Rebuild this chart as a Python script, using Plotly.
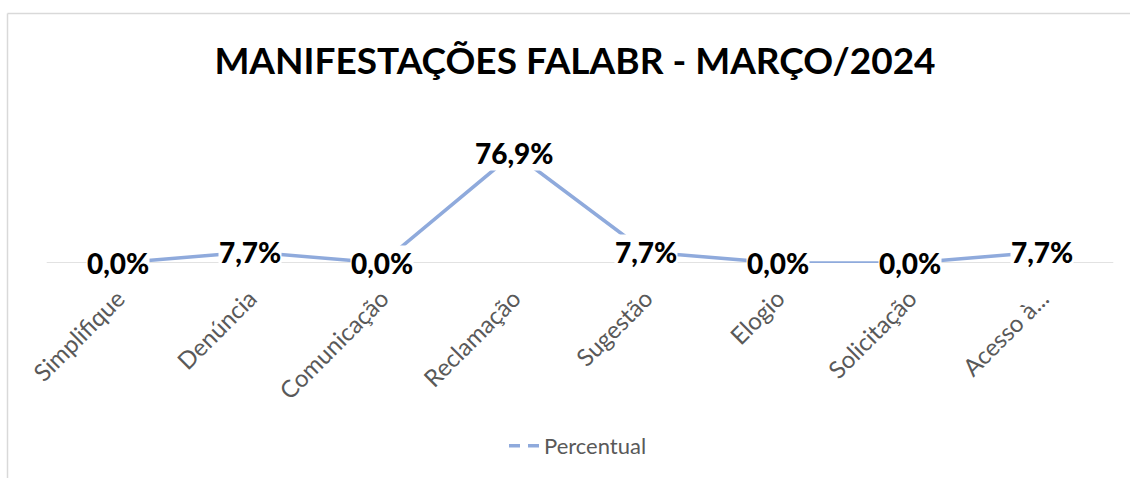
import plotly.graph_objects as go

categories = ["Simplifique", "Denúncia", "Comunicação", "Reclamação", "Sugestão", "Elogio", "Solicitação", "Acesso à..."]
values = [0.0, 7.7, 0.0, 76.9, 7.7, 0.0, 0.0, 7.7]
series_name = "Percentual"
title_text = "MANIFESTAÇÕES FALABR - MARÇO/2024"

W, H = 1130, 478
ML, MR, MT, MB = 52, 22, 120, 215
FONT = "Lato"
LINE_COLOR = "#8FAADC"

fig = go.Figure()
fig.add_trace(go.Scatter(
    x=categories, y=values, mode="lines", name=series_name,
    line=dict(color=LINE_COLOR, width=3.5),
    hoverinfo="skip", showlegend=False,
))
# legend entry (Excel-style broken line symbol)
fig.add_trace(go.Scatter(
    x=[None], y=[None], mode="lines", name=series_name,
    line=dict(color=LINE_COLOR, width=3.5, dash="11px,8px"),
    hoverinfo="skip", showlegend=True,
))

def fmt(v):
    return f"{v:.1f}".replace(".", ",") + "%"

for c, v in zip(categories, values):
    fig.add_annotation(
        x=c, y=v, xref="x", yref="y", text=fmt(v), showarrow=False,
        font=dict(family=FONT, size=28, color="#000000", weight=900),
        bgcolor="#FFFFFF", borderpad=0, xanchor="center", yanchor="middle",
    )

plot_w = W - ML - MR
plot_h = H - MT - MB
def px_to_paper_x(px):
    return (px - ML) / plot_w
def px_to_paper_y(py):
    return (H - MB - py) / plot_h

# chart border (left and top)
fig.add_shape(type="line", xref="paper", yref="paper",
              x0=px_to_paper_x(7.5), x1=px_to_paper_x(1135),
              y0=px_to_paper_y(13.5), y1=px_to_paper_y(13.5),
              line=dict(color="#D9D9D9", width=1.5))
fig.add_shape(type="line", xref="paper", yref="paper",
              x0=px_to_paper_x(7.5), x1=px_to_paper_x(7.5),
              y0=px_to_paper_y(13.5), y1=px_to_paper_y(480),
              line=dict(color="#D9D9D9", width=1.5))

fig.update_layout(
    width=W, height=H,
    margin=dict(l=ML, r=MR, t=MT, b=MB),
    paper_bgcolor="#FFFFFF", plot_bgcolor="#FFFFFF",
    title=dict(text=title_text, x=575 / W, xanchor="center", y=1 - 61 / H, yanchor="middle",
               font=dict(family=FONT, size=37, color="#000000", weight="bold")),
    xaxis=dict(
        type="category", range=[-0.5, len(categories) - 0.5],
        showgrid=False, zeroline=False, showline=False,
        tickangle=-45, ticks="", ticklabelstandoff=16,
        tickfont=dict(family=FONT, size=24, color="#595959"),
    ),
    yaxis=dict(
        range=[0, 100], showgrid=False, zeroline=False, showline=False,
        showticklabels=False, ticks="",
    ),
    showlegend=True,
    legend=dict(orientation="h", x=578 / W, xanchor="center", xref="container",
                y=1 - 446 / H, yref="container", yanchor="middle",
                font=dict(family=FONT, size=22, color="#595959")),
)

# horizontal axis line at y=0
fig.add_shape(type="line", xref="paper", yref="y", x0=-0.005, x1=1.005, y0=0, y1=0,
              line=dict(color="#D9D9D9", width=1.5), layer="below")

fig.write_html("out.html", config={"displayModeBar": False},
               post_script="document.body.style.margin='0';")
